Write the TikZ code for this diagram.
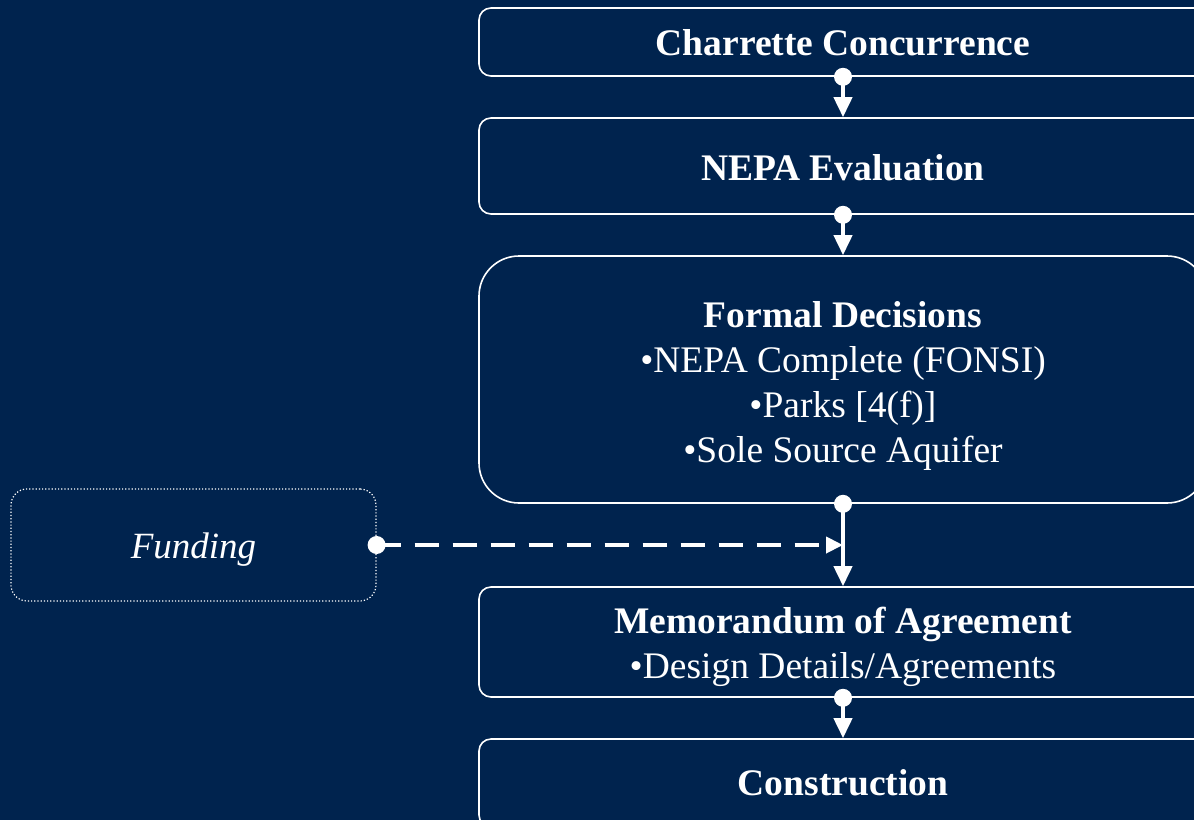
\documentclass[tikz,border=0pt]{standalone}
\usepackage{fontspec}
\setmainfont{Liberation Serif}
\usetikzlibrary{arrows.meta}
\definecolor{navy}{RGB}{0,35,78}
\newcommand{\dnshift}[2]{\raisebox{-#1}[\height][\depth]{#2}}
\tikzset{
  box/.style={draw=white, line width=1.6pt, rounded corners=12pt, minimum width=728pt, text=white, align=center, font=\fontsize{37.5}{45}\selectfont, inner sep=0pt},
  conn/.style={draw=white, line width=4pt, -{Triangle[length=20pt,width=18pt]}},
  dot/.style={fill=white},
}
\begin{document}
\begin{tikzpicture}[x=1pt,y=-1pt]
\useasboundingbox (0,0) rectangle (1194,820);
\fill[navy] (0,0) rectangle (1194,820);
\clip (0,0) rectangle (1194,820);
\node[box, minimum height=68pt] (cc) at (843,42) {\dnshift{1pt}{\textbf{Charrette Concurrence}}};
\node[box, minimum height=96pt] (ne) at (843,166) {\dnshift{2pt}{\textbf{NEPA Evaluation}}};
\node[box, minimum height=247pt, rounded corners=40pt] (fd) at (843,379.5) {\dnshift{6pt}{\begin{tabular}{@{}c@{}}\textbf{Formal Decisions}\\•NEPA Complete (FONSI)\\•Parks [4(f)]\\•Sole Source Aquifer\end{tabular}}};
\node[box, minimum height=110pt] (moa) at (843,642) {\dnshift{5pt}{\begin{tabular}{@{}c@{}}\textbf{Memorandum of Agreement}\\•Design Details/Agreements\end{tabular}}};
\node[box, minimum height=88pt] (con) at (843,783) {\textbf{Construction}};
\node[draw=white, line width=1.2pt, dotted, rounded corners=16pt, minimum width=365pt, minimum height=112pt, text=white, font=\fontsize{37}{45}\selectfont\itshape, inner sep=0pt] (fu) at (193.5,545) {\dnshift{5pt}{Funding}};
\coordinate (j) at (fd.south |- fu.east);
\draw[conn] (cc.south) -- (ne.north);
\draw[conn] (ne.south) -- (fd.north);
\draw[conn] (fd.south) -- (moa.north);
\draw[conn] (moa.south) -- (con.north);
\draw[draw=white, line width=4pt, dash pattern=on 24pt off 14pt, -{Triangle[length=17pt,width=16pt]}] (fu.east) -- (j);
\foreach \p in {cc.south, ne.south, fd.south, moa.south, fu.east}
  \fill[dot] (\p) circle (9pt);
\end{tikzpicture}
\end{document}
